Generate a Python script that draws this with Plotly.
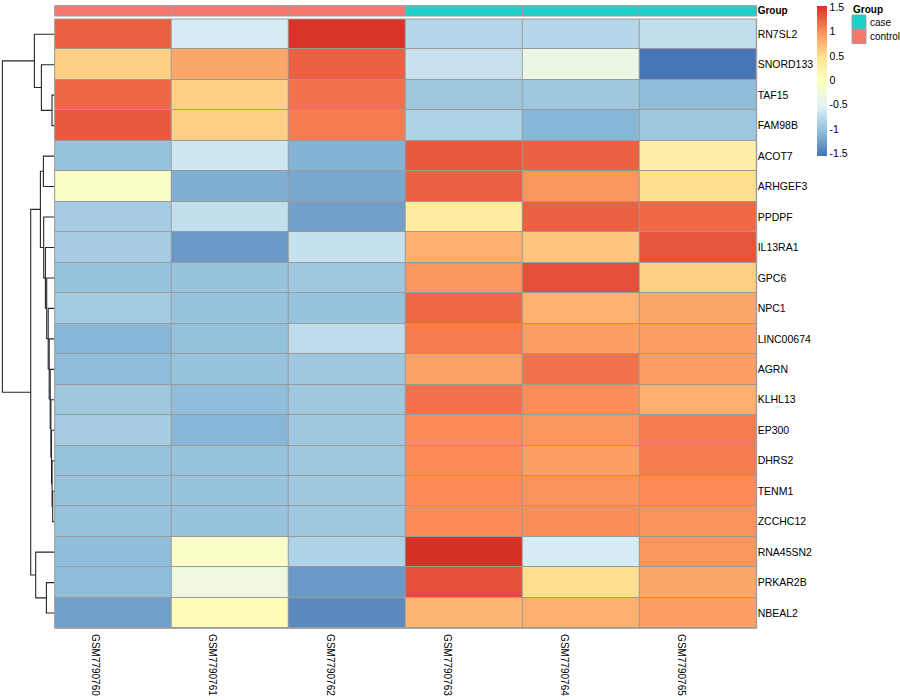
import plotly.graph_objects as go

W, H = 900, 700

samples = ["GSM7790760", "GSM7790761", "GSM7790762", "GSM7790763", "GSM7790764", "GSM7790765"]
groups = ["control", "control", "control", "case", "case", "case"]
group_levels = ["case", "control"]
group_colors = ["#1ECFCB", "#F8766D"]

genes = ["RN7SL2", "SNORD133", "TAF15", "FAM98B", "ACOT7", "ARHGEF3", "PPDPF", "IL13RA1",
         "GPC6", "NPC1", "LINC00674", "AGRN", "KLHL13", "EP300", "DHRS2", "TENM1",
         "ZCCHC12", "RNA45SN2", "PRKAR2B", "NBEAL2"]

RN7SL2 = [1.25, -0.60, 1.50, -0.80, -0.80, -0.72]
SNORD133 = [0.60, 0.85, 1.25, -0.68, -0.35, -1.55]
TAF15 = [1.22, 0.60, 1.15, -0.95, -0.95, -1.05]
FAM98B = [1.30, 0.60, 1.10, -0.85, -1.10, -0.95]
ACOT7 = [-1.00, -0.65, -1.12, 1.30, 1.25, 0.25]
ARHGEF3 = [-0.10, -1.15, -1.20, 1.25, 0.95, 0.50]
PPDPF = [-0.90, -0.72, -1.25, 0.30, 1.25, 1.20]
IL13RA1 = [-0.90, -1.30, -0.70, 0.80, 0.65, 1.32]
GPC6 = [-1.00, -1.00, -0.95, 0.95, 1.35, 0.60]
NPC1 = [-0.92, -1.00, -1.00, 1.20, 0.78, 0.85]
LINC00674 = [-1.10, -1.02, -0.75, 1.10, 0.90, 0.90]
AGRN = [-1.05, -1.00, -0.95, 0.88, 1.15, 0.90]
KLHL13 = [-0.95, -1.05, -0.95, 1.15, 1.00, 0.80]
EP300 = [-0.90, -1.10, -0.95, 1.02, 0.95, 1.10]
DHRS2 = [-1.00, -1.00, -0.95, 1.02, 0.90, 1.10]
TENM1 = [-1.00, -1.00, -0.95, 1.02, 0.97, 1.02]
ZCCHC12 = [-1.00, -1.00, -0.95, 1.02, 1.00, 0.98]
RNA45SN2 = [-1.05, -0.10, -0.85, 1.52, -0.60, 0.95]
PRKAR2B = [-1.05, -0.30, -1.30, 1.35, 0.50, 0.85]
NBEAL2 = [-1.25, 0.05, -1.40, 0.75, 0.80, 0.90]

expr = [RN7SL2, SNORD133, TAF15, FAM98B, ACOT7, ARHGEF3, PPDPF, IL13RA1, GPC6, NPC1,
        LINC00674, AGRN, KLHL13, EP300, DHRS2, TENM1, ZCCHC12, RNA45SN2, PRKAR2B, NBEAL2]

# row dendrogram, hclust style: negative = leaf (1-based row), positive = earlier merge (1-based)
row_merge = [
    (-3, -4), (-2, 1), (-1, 2), (-5, -6), (-16, -17), (-15, 5), (-14, 6), (-13, 7),
    (-12, 8), (-11, 9), (-10, 10), (-9, 11), (-8, 12), (-7, 13), (4, 14), (-19, -20),
    (-18, 16), (15, 17), (3, 18),
]
row_height = [2.7, 13.3, 20.3, 11.3, 2.0, 2.6, 3.2, 3.8, 4.5, 5.5, 6.5, 8.0, 9.3, 11.0,
              14.3, 8.3, 19.0, 24.0, 52.3]

scale_ticks = [1.5, 1, 0.5, 0, -0.5, -1, -1.5]
scale_labels = ["1.5", "1", "0.5", "0", "-0.5", "-1", "-1.5"]

palette = ["#4575B4", "#91BFDB", "#E0F3F8", "#FFFFBF", "#FEE090", "#FC8D59", "#D73027"]
colorscale = [[i / (len(palette) - 1), c] for i, c in enumerate(palette)]
ZMIN, ZMAX = -1.55, 1.52
GRID = "#9A9A9A"
FONT = "Liberation Sans, Arial, sans-serif"


def px(x):
    return x / W


def py(y):
    return 1 - y / H


HM_L, HM_R, HM_T, HM_B = 54.7, 756.7, 19.0, 628.3
AN_T, AN_B = 5.7, 16.0

fig = go.Figure()

# main heatmap
fig.add_trace(go.Heatmap(
    z=expr, x=list(range(len(samples))), y=list(range(len(genes))),
    colorscale=colorscale, zmin=ZMIN, zmax=ZMAX, xgap=1, ygap=1,
    xaxis="x", yaxis="y",
    colorbar=dict(x=px(817), xanchor="left", xpad=0, y=py(6), yanchor="top", ypad=0,
                  len=150, lenmode="pixels", thickness=10, outlinewidth=0, ticks="",
                  tickvals=scale_ticks, ticktext=scale_labels,
                  tickfont=dict(size=10.5, color="black", family=FONT)),
))

# annotation bar
fig.add_trace(go.Heatmap(
    z=[[group_levels.index(g) for g in groups]], x=list(range(len(samples))), y=[0],
    colorscale=[[0, group_colors[0]], [1, group_colors[1]]], zmin=0, zmax=1,
    showscale=False, xgap=1, xaxis="x", yaxis="y3", hoverinfo="skip",
))

# dendrogram
n = len(genes)
pos, hgt = {}, {}


def node(c):
    if c < 0:
        return -c - 1, 0.0
    return pos[c], hgt[c]


dx, dy = [], []
for k, ((a, b), h) in enumerate(zip(row_merge, row_height), start=1):
    ya, ha = node(a)
    yb, hb = node(b)
    pos[k] = (ya + yb) / 2
    hgt[k] = h
    dx += [ha, h, h, hb, None]
    dy += [ya, ya, yb, yb, None]
fig.add_trace(go.Scatter(x=dx, y=dy, mode="lines", xaxis="x2", yaxis="y",
                         line=dict(color="#262626", width=1.1), hoverinfo="skip",
                         showlegend=False))

# column labels
for i, s in enumerate(samples):
    fig.add_annotation(x=i, y=0, xref="x", yref="y domain", text=s, showarrow=False,
                       textangle=90, xanchor="center", yanchor="top", xshift=-17, yshift=-4,
                       font=dict(size=10, color="black", family=FONT))

shapes = [
    # grey fill beneath the cells shows through the gaps as cell borders
    dict(type="rect", xref="x domain", yref="y domain", x0=0, x1=1, y0=0, y1=1,
         fillcolor=GRID, line=dict(width=0, color="rgba(0,0,0,0)"), layer="below"),
    dict(type="rect", xref="x domain", yref="y3 domain", x0=0, x1=1, y0=0, y1=1,
         fillcolor=GRID, line=dict(width=0, color="rgba(0,0,0,0)"), layer="below"),
    dict(type="rect", xref="x domain", yref="y domain", x0=0, x1=1, y0=0, y1=1,
         line=dict(color=GRID, width=1)),
    dict(type="rect", xref="x domain", yref="y3 domain", x0=0, x1=1, y0=0, y1=1,
         line=dict(color=GRID, width=1)),
]
# legend for Group
lg_x0, lg_x1 = 852, 866
for i, (lab, col) in enumerate(zip(group_levels, group_colors)):
    y0 = 15 + i * 14.3
    shapes.append(dict(type="rect", xref="paper", yref="paper", x0=px(lg_x0), x1=px(lg_x1),
                       y0=py(y0), y1=py(y0 + 14.3), fillcolor=col,
                       line=dict(color="#A0A0A0", width=1)))
    fig.add_annotation(x=px(lg_x1 + 2), y=py(y0 + 7.5), xref="paper", yref="paper", text=lab,
                       showarrow=False, xanchor="left", yanchor="middle",
                       font=dict(size=10, color="black", family=FONT))
fig.add_annotation(x=px(851), y=py(10), xref="paper", yref="paper", text="<b>Group</b>",
                   showarrow=False, xanchor="left", yanchor="middle",
                   font=dict(size=10, color="black", family=FONT))

fig.update_layout(
    template="none",
    width=W, height=H, margin=dict(l=0, r=0, t=0, b=0),
    paper_bgcolor="white", plot_bgcolor="white", showlegend=False, hovermode=False,
    shapes=shapes,
    xaxis=dict(domain=[px(HM_L), px(HM_R)], range=[-0.5, len(samples) - 0.5], anchor="y",
               visible=False, showgrid=False, zeroline=False, showline=False, ticks=""),
    yaxis=dict(domain=[py(HM_B), py(HM_T)], range=[n - 0.5, -0.5], anchor="x", side="right",
               tickvals=list(range(n)), ticktext=genes, ticks="", showgrid=False, zeroline=False,
               showline=False, tickfont=dict(size=10.5, color="black", family=FONT)),
    yaxis3=dict(domain=[py(AN_B), py(AN_T)], range=[0.5, -0.5], anchor="x", side="right",
                tickvals=[0], ticktext=["<b>Group</b>"], ticks="", showgrid=False, zeroline=False,
                showline=False, tickfont=dict(size=10, color="black", family=FONT)),
    xaxis2=dict(domain=[0, px(HM_L)], range=[HM_L, 0], anchor="y", visible=False,
                showgrid=False, zeroline=False, showline=False, ticks="", fixedrange=True),
)

fig.write_html("out.html", config={"staticPlot": True, "displayModeBar": False},
               post_script="document.body.style.margin='0';")
